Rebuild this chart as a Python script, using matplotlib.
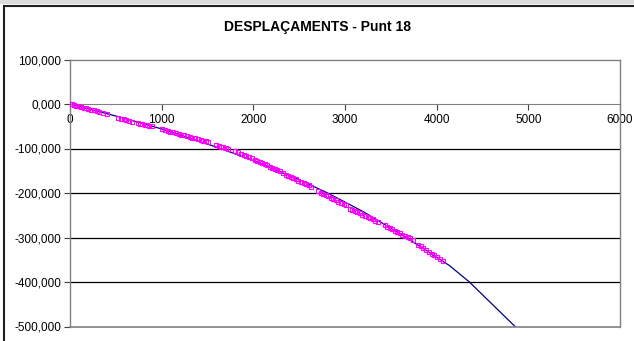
import matplotlib
matplotlib.use('Agg')
import matplotlib.pyplot as plt
from matplotlib.patches import Rectangle
from matplotlib.ticker import FuncFormatter

# Theoretical curve (line)
line_x = [0, 500, 1000, 1600, 2000, 2500, 2810, 3200, 3667, 4139, 4357, 4855]
line_y = [0, -27000, -56000, -97000, -127000, -170000, -200000, -242000,
          -300000, -363000, -400000, -500000]

# Measured displacements (open squares)
pts_x = [0, 20, 45, 70, 95, 120, 150, 175, 200, 230, 260, 290, 320, 360, 400,
         525, 555, 585, 615, 645, 672,
         740, 765, 790, 815, 840, 865, 893,
         1005, 1035, 1065, 1095, 1125, 1155, 1185, 1215, 1245, 1275, 1305, 1335,
         1365, 1395, 1425, 1455, 1480, 1507,
         1598, 1620, 1645, 1670, 1700, 1725,
         1805, 1835, 1865, 1895, 1925, 1955, 1985, 2015,
         2040, 2068, 2096, 2124, 2152, 2180, 2208, 2236, 2262, 2288,
         2324, 2352, 2380, 2408, 2436, 2464, 2492, 2520, 2548, 2576, 2604, 2633,
         2705, 2733, 2761, 2789, 2817, 2845, 2873, 2901, 2929, 2957, 2985, 3014,
         3050, 3078, 3106, 3134, 3162, 3190, 3218, 3246, 3274, 3302, 3330, 3359,
         3431, 3459, 3487, 3515, 3543, 3571, 3599, 3627, 3655, 3683, 3711, 3740,
         3795, 3825, 3855, 3885, 3915, 3945, 3975, 4005, 4035, 4066]
pts_y = [0, -1000, -2300, -3700, -5000, -6400, -8000, -9400, -10800, -12500,
         -14000, -15700, -17400, -19800, -22000,
         -31500, -33000, -34800, -36500, -38300, -40000,
         -43000, -44300, -45500, -46700, -47800, -49000, -50200,
         -57000, -58800, -60500, -62200, -63900, -65600, -67300, -69000, -70600,
         -72300, -74000, -75700, -77400, -79100, -80800, -82500, -84200, -86000,
         -93000, -94400, -95900, -97500, -99300, -101000,
         -106000, -108700, -111300, -114000, -116700, -119400, -122100, -125000,
         -128000, -130500, -133000, -135500, -138000, -140500, -143000, -145400,
         -147700, -150000,
         -156000, -158700, -161400, -164100, -166800, -169500, -172200, -174900,
         -177600, -180300, -183000, -186000,
         -196000, -198900, -201800, -204700, -207600, -210500, -213400, -216300,
         -219200, -222100, -225000, -228000,
         -235000, -237700, -240400, -243100, -245800, -248500, -251200, -253900,
         -256600, -259300, -262000, -265000,
         -273000, -275900, -278800, -281700, -284600, -287500, -290400, -293300,
         -296200, -299100, -302000, -305000,
         -316000, -320000, -324000, -328000, -332000, -336000, -340000, -344000,
         -348000, -352000]

x_ticks = [0, 1000, 2000, 3000, 4000, 5000, 6000]
y_ticks = [100000, 0, -100000, -200000, -300000, -400000, -500000]

plt.rcParams['font.family'] = ['Liberation Sans', 'DejaVu Sans']

fig = plt.figure(figsize=(6.34, 3.41), dpi=100)
W, H = 634, 341

# outer frame like the spreadsheet chart
fig.add_artist(Rectangle((0, 1 - 4 / H), 1, 4 / H, transform=fig.transFigure,
                         facecolor='#dcdcdc', edgecolor='none'))
fig.add_artist(Rectangle((3.5 / W, -0.1), 1.2, 1 - 5.5 / H + 0.1,
                         transform=fig.transFigure, fill=False,
                         edgecolor='#202020', linewidth=1.5))

ax = fig.add_axes([70 / W, 1 - 326.5 / H, 550 / W, 267 / H])

for yv in y_ticks[2:-1]:
    ax.axhline(yv, color='black', linewidth=0.9, zorder=1)

ax.plot(line_x, line_y, color='#000080', linewidth=0.9, zorder=2)
ax.plot(pts_x, pts_y, linestyle='none', marker='s', markersize=3,
        markerfacecolor='none', markeredgecolor='#FF00FF',
        markeredgewidth=0.8, zorder=3)

ax.set_xlim(0, 6000)
ax.set_ylim(-500000, 100000)

for s in ['top', 'right', 'left']:
    ax.spines[s].set_color('#808080')
    ax.spines[s].set_linewidth(1.0)
ax.spines['bottom'].set_position(('data', 0))
ax.spines['bottom'].set_color('#808080')
ax.axhline(-500000, color='#808080', linewidth=1.2, zorder=4, clip_on=False)

ax.set_xticks(x_ticks)
ax.set_yticks(y_ticks)
ax.yaxis.set_major_formatter(FuncFormatter(
    lambda v, p: '{:,.3f}'.format(v / 1000).replace(',', ' ').replace('.', ',').replace(' ', '.')))
ax.tick_params(axis='x', direction='out', length=4, color='#404040',
               labelsize=8.5, pad=3.5)
ax.tick_params(axis='y', direction='out', length=4, color='#404040',
               labelsize=8.5, pad=2.5)

fig.text(0.5, 1 - 27 / H, 'DESPLAÇAMENTS - Punt 18', ha='center', va='center',
         fontsize=10, fontweight='bold')

fig.savefig('out.png', dpi=100)
